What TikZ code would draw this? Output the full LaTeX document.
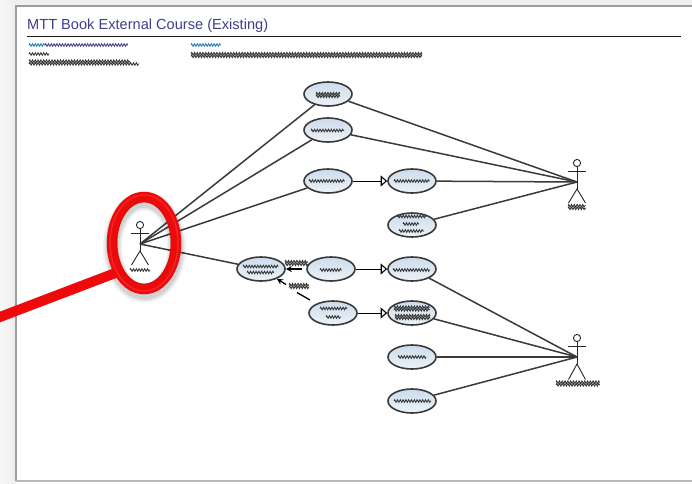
\documentclass[tikz,border=0pt]{standalone}
\usepackage{fontspec}
\setmainfont{Liberation Sans}
\usetikzlibrary{shapes.geometric,arrows.meta,decorations.pathmorphing}
\definecolor{pageedge}{HTML}{9A9DA2}
\definecolor{titleblue}{HTML}{3F3F8F}
\definecolor{ucfill}{HTML}{CCDBEB}
\definecolor{ringred}{HTML}{EE0A0A}
\definecolor{inkc}{HTML}{3A3A3A}
\tikzset{
 greek/.style={draw=#1,line width=.85pt,decorate,decoration={zigzag,amplitude=1.3pt,segment length=2.8pt}},
 greek/.default=black!80,
 usecase/.style={ellipse,draw=inkc,line width=1.6pt,minimum width=48pt,minimum height=24pt,inner sep=0pt,left color=ucfill,right color=ucfill!35,shading angle=0},
 link/.style={draw=inkc,line width=1.5pt},
 stick/.style={draw=black!85,line width=.9pt},
 gen/.style={draw=black,line width=1pt,-{Triangle[open,length=6.5pt,width=11pt,line width=1.1pt]}},
 dep/.style={draw=black,line width=1.3pt,-{Stealth[length=6pt,width=6pt]}},
}
\newcommand{\gdense}[3]{\draw[greek] (#1,#3-1.3) -- (#2,#3-1.3);\draw[greek] (#1,#3+1.3) -- (#2,#3+1.3);}
\newcommand{\gline}[3]{\draw[greek] (#1,#3) -- (#2,#3);}
\newcommand{\actor}[4]{% name, x, y of head centre, leg length end
 \coordinate (#1) at (#2,#3+19);
 \draw[stick] (#2,#3) circle (3.6);
 \draw[stick] (#2,#3+3.6) -- (#2,#3+26);
 \draw[stick] (#2-9,#3+8.5) -- (#2+9,#3+8.5);
 \draw[stick] (#2-8.5,#3+#4) -- (#2,#3+26) -- (#2+8.5,#3+#4);
}
\begin{document}
\begin{tikzpicture}[x=1pt,y=-1pt]
\useasboundingbox (0,0) rectangle (692,483);
% surroundings and page
\shade[left color=black!3,right color=black!7] (0,0) rectangle (16,483);
\fill[black!6] (16,0) rectangle (692,6);
\fill[white] (16,6) rectangle (692,481);
\draw[pageedge,line width=2pt] (16,481) -- (16,6) -- (692,6);
\draw[pageedge!70,line width=1.5pt] (16,481) -- (692,481);
% header
\node[anchor=base west,inner sep=0pt,text=titleblue,font=\fontsize{14.6}{16}\selectfont] (title) at (27,29) {MTT Book External Course (Existing)};
\coordinate (ruleL) at (27,36.5); \coordinate (ruleR) at (681,36.5);
\draw[black!90,line width=1.7pt] (ruleL) -- (ruleR);
\draw[greek=cyan!60!blue!90!black] (29,45) -- (45,45);
\draw[greek=titleblue] (45,45) -- (128,45);
\draw[greek=cyan!60!blue!90!black] (191,45) -- (221,45);
\gline{29}{49}{54}
\gdense{29}{130}{62.5}
\gline{130}{139}{64}
\gdense{191}{422}{55}
% use cases
\node[usecase] (U1) at (328,94) {};
\node[usecase] (U2) at (328,130) {};
\node[usecase] (U3) at (328,181) {};
\node[usecase] (U4) at (412,181) {};
\node[usecase] (U5) at (412,225) {};
\node[usecase] (U6) at (261,269) {};
\node[usecase] (U7) at (331,269) {};
\node[usecase] (U8) at (412,269) {};
\node[usecase] (U9) at (333,313) {};
\node[usecase] (U10) at (412,313) {};
\node[usecase] (U11) at (412,357) {};
\node[usecase] (U12) at (412,401) {};
\gdense{316}{340}{95}
\gline{311}{344}{130.5}
\gline{309}{345}{181}
\gline{394}{430}{181}
\gline{397}{426}{216.5}
\gline{403}{419}{224}
\gline{399}{424}{231}
\gline{243}{278}{266.5}
\gline{247}{274}{272.5}
\gline{320}{342}{270}
\gline{393}{430}{270}
\gline{320}{347}{308.5}
\gline{326}{341}{317}
\gdense{394}{430}{308.5}
\gdense{395}{430}{317}
\gline{398}{426}{357}
\gline{394}{431}{401}
% actors
\actor{A}{140}{225}{40}
\actor{B}{577}{163}{40}
\actor{C}{577}{338}{41.5}
\gline{130}{150}{270}
\gdense{568}{586}{207}
\gdense{556}{600}{383.5}
% associations
\foreach \u in {U1,U2,U3,U6} \draw[link] (A) -- (\u);
\foreach \u in {U1,U2,U4,U5} \draw[link] (\u) -- (B);
\foreach \u in {U8,U10,U11,U12} \draw[link] (\u) -- (C);
% generalisations
\draw[gen] (U3) -- (U4);
\draw[gen] (U7) -- (U8);
\draw[gen] (U9) -- (U10);
% dependencies
\coordinate (d1) at (302,269);
\coordinate (d2) at (310,300);
\coordinate (d3) at (297,292.5);
\coordinate (d4) at (286,284.5);
\draw[dep] (d1) -- (U6);
\draw[black,line width=1.3pt] (d2) -- (d3);
\draw[dep] (d4) -- (U6);
\gdense{285}{308}{263}
\gdense{289}{309}{286}
% red callout
\foreach \o/\w in {.05/19,.06/16,.07/13}{
 \draw[black,opacity=\o,line width=\w pt] (144.5,247) ellipse (32 and 46);
}
\coordinate (calloutEnd) at (118,272);
\coordinate (calloutStart) at (-8,320);
\begin{scope}
\clip (0,0) rectangle (692,483);
\draw[ringred,line width=10pt] (calloutStart) -- (calloutEnd);
\end{scope}
\draw[ringred,line width=10.5pt] (144,243) ellipse (32 and 46);
\draw[red!70!black,opacity=.3,line width=1pt] (144,243) ellipse (27 and 41);
\draw[red!70!white,opacity=.4,line width=1.5pt] (144,243) ellipse (34 and 48);
\end{tikzpicture}
\end{document}
